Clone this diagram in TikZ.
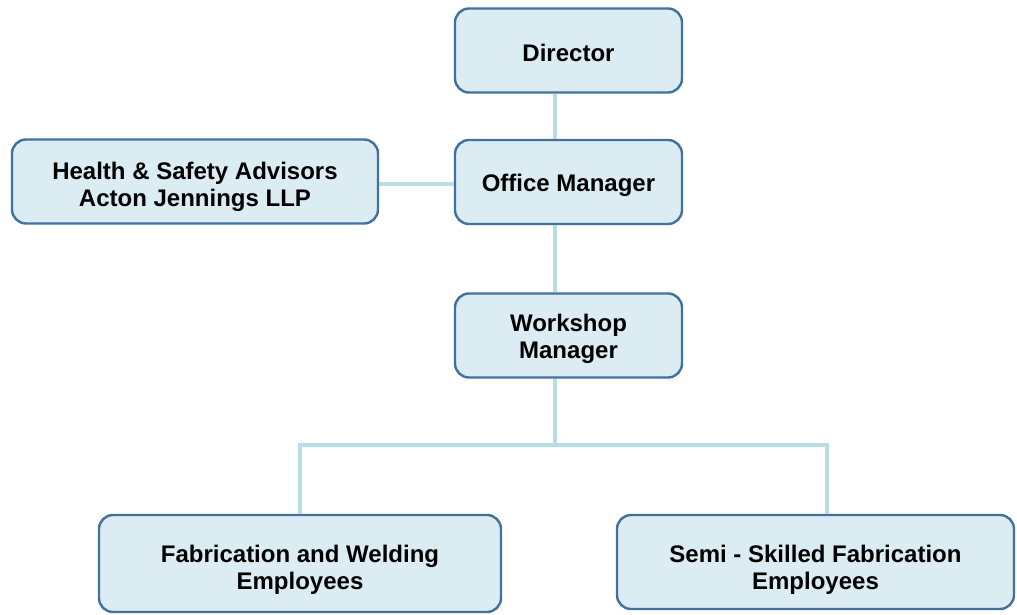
\documentclass[tikz,border=0pt]{standalone}
\usepackage{fontspec}
\setmainfont{Liberation Sans}
\usetikzlibrary{positioning}
\definecolor{boxfill}{RGB}{219,236,243}
\definecolor{boxline}{RGB}{65,113,156}
\definecolor{linkblue}{RGB}{183,221,232}

\begin{document}
\begin{tikzpicture}[
    x=1pt, y=-1pt,
    every node/.style={font=\fontsize{24}{27}\selectfont\bfseries},
    role/.style={rectangle, rounded corners=14pt, minimum width=227pt, minimum height=84pt,
                 inner sep=0pt, align=center, draw=boxline, fill=boxfill, line width=2.4pt},
    % pushes the text of a #1-line node down by #2 inside its box
    nudge/.style 2 args={execute at begin node={%
        \pgfmathsetlengthmacro\nudgeht{17.5pt+27pt*(#1-1)+2*#2}\rule{0pt}{\nudgeht}}},
    link/.style={draw=linkblue, line width=4pt}
]
\useasboundingbox (0,0) rectangle (1017,615);

% Roles
\node (director) [role, nudge={1}{2.5pt}] at (568.5,50.5) {Director};
\node (office) [role, nudge={1}{3pt}] at (568.5,182) {Office Manager};
\node (safety) [role, nudge={2}{5pt}, minimum width=366pt] at (195,181.5) {Health \& Safety Advisors\\ Acton Jennings LLP};
\node (workshop) [role, nudge={2}{3.5pt}] at (568.5,335.5) {Workshop\\Manager};
\node (welding) [role, nudge={2}{6.5pt}, minimum width=402pt, minimum height=97pt] at (300,563.5) {Fabrication and Welding\\Employees};
\node (semi) [role, nudge={2}{8pt}, minimum width=397pt, minimum height=94pt] at (815.5,562) {Semi - Skilled Fabrication\\Employees};

% Links
\coordinate (bus) at (555,445);
\draw [link] ([xshift=-13.5pt]director.south) -- ([xshift=-13.5pt]office.north);
\draw [link] (safety.east |- 0,184) -- (office.west |- 0,184);
\draw [link] ([xshift=-13.5pt]office.south) -- ([xshift=-13.5pt]workshop.north);
\draw [link] ([xshift=-13.5pt]workshop.south) -- (bus);
\draw [link] (welding.north) -- (welding.north |- bus) -- ([xshift=11pt]semi.north |- bus) -- ([xshift=11pt]semi.north);

\end{tikzpicture}
\end{document}
